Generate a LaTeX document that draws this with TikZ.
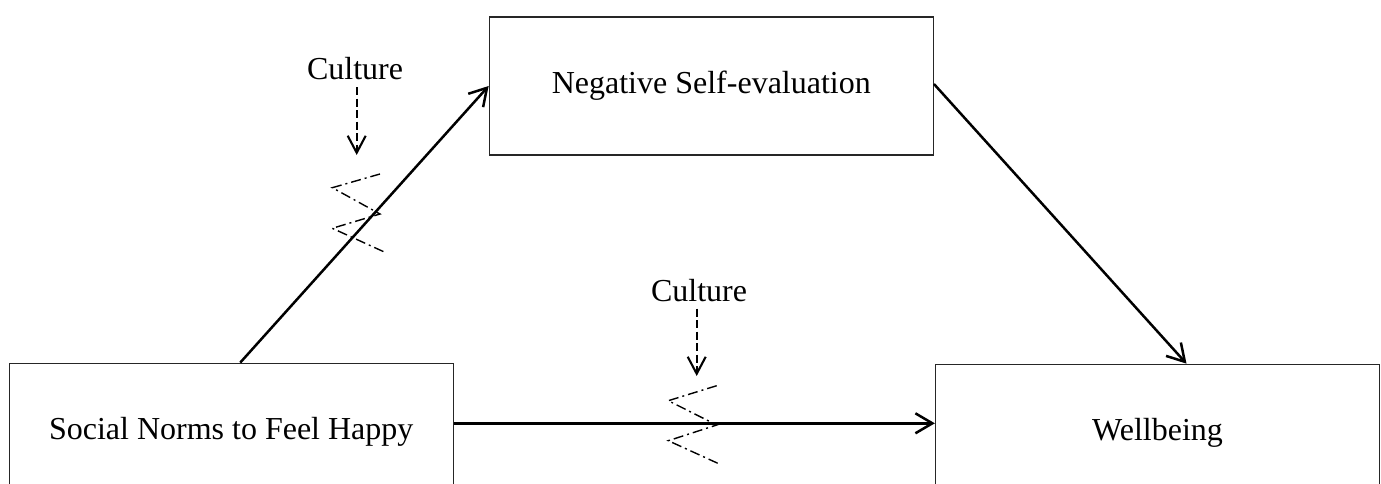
\documentclass[tikz,border=0pt]{standalone}
\usepackage{fontspec}
\setmainfont{Liberation Serif}
\usetikzlibrary{arrows.meta}
\begin{document}
\begin{tikzpicture}[x=1pt,y=-1pt,
  box/.style={draw=black!85, line width=1.3pt, rectangle, minimum width=444pt, minimum height=138pt,
    inner sep=0pt, font=\fontsize{32}{38}\selectfont, text height=22pt, text depth=7pt},
  lbl/.style={inner sep=0pt, font=\fontsize{32}{38}\selectfont, text height=22pt, text depth=7pt},
  mainarrow/.style={line width=2.5pt, -{Straight Barb[length=17pt,width=20pt,line width=2.5pt]}},
  modarrow/.style={line width=2.1pt, dash pattern=on 8pt off 3.5pt, -{Straight Barb[length=17pt,width=18pt,line width=2.1pt]}},
  zig/.style={line width=1.4pt, dash pattern=on 10pt off 4pt on 2pt off 4pt}]
\useasboundingbox (0,0) rectangle (1381,484);
% boxes
\node[box] (neg) at (711.3,86) {Negative Self-evaluation};
\node[box] (soc) at (231.2,432.3) {Social Norms to Feel Happy};
\node[box] (wb)  at (1157.5,433.3) {Wellbeing};
% culture labels
\node[lbl] (cult1) at (355,72.5) {Culture};
\node[lbl] (cult2) at (699,294) {Culture};
\coordinate (c1tip) at (356.7,155);
\coordinate (c2tip) at (696.7,376);
\coordinate (hy) at (0,423.3);
% main paths
\draw[mainarrow] ([xshift=9pt]soc.north) -- (neg.west);
\draw[mainarrow] ([yshift=2pt]neg.east) -- ([xshift=29pt]wb.north);
\draw[mainarrow] (soc.east |- hy) -- (wb.west |- hy);
% moderators
\draw[modarrow] (cult1.south -| c1tip) -- (c1tip);
\draw[modarrow] (cult2.south -| c2tip) -- (c2tip);
% zigzags
\draw[zig] (380,174) -- (332.3,187.7) -- (380,214) -- (332.3,228.3) -- (385,252.3);
\draw[zig] (716.7,385.7) -- (668.3,400.7) -- (716.7,425) -- (668.3,440.7) -- (720,464.3);
\end{tikzpicture}
\end{document}
